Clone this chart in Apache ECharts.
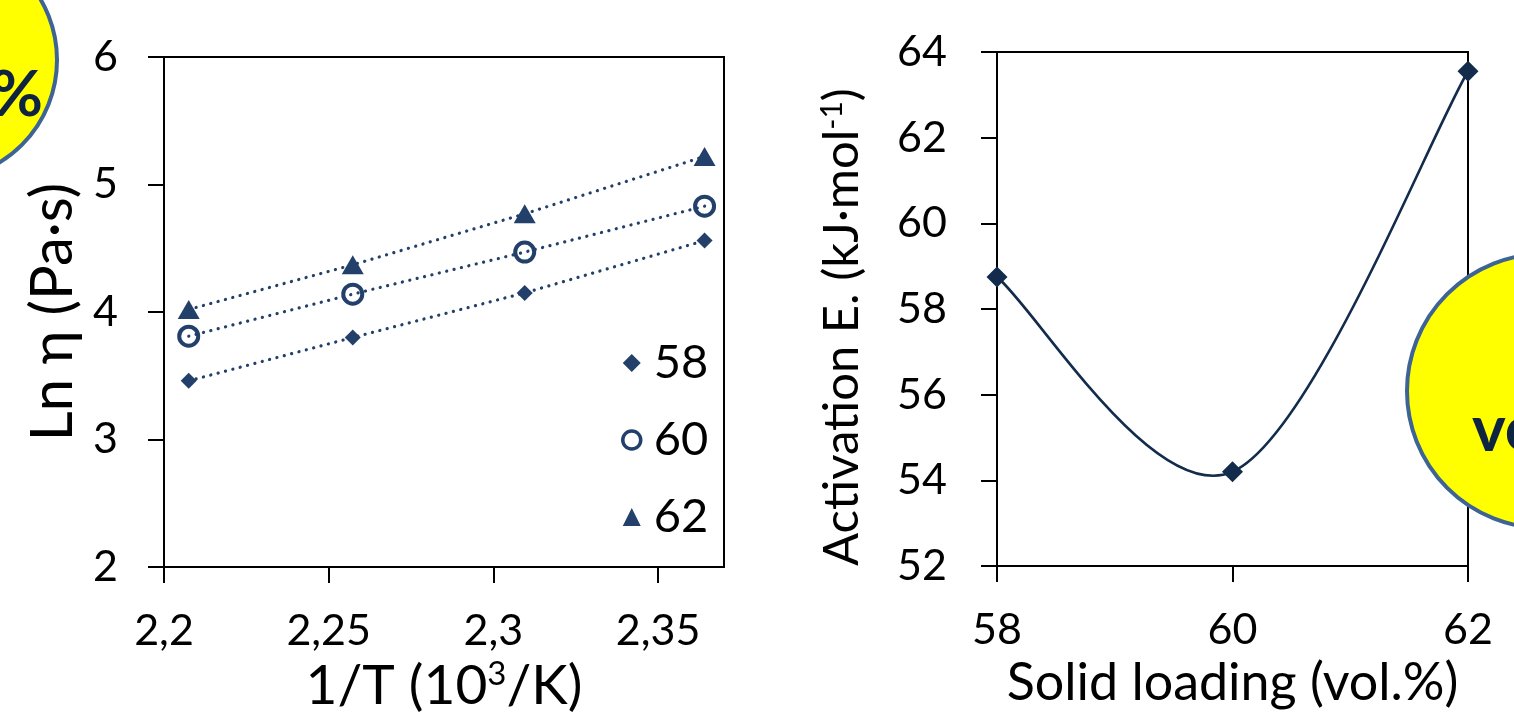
<!DOCTYPE html>
<html>
<head>
<meta charset="utf-8">
<script src="https://cdn.jsdelivr.net/npm/echarts@6/dist/echarts.min.js"></script>
<style>
html,body{margin:0;padding:0;background:#fff;}
#c{width:1514px;height:723px;}
</style>
</head>
<body>
<div id="c"></div>
<script>
// ---- Data (left panel: Arrhenius plot) ----
const invT = [2.2075, 2.2573, 2.3095, 2.3641];
const ln58 = [3.46, 3.80, 4.15, 4.56];
const ln60 = [3.81, 4.14, 4.47, 4.83];
const ln62 = [4.02, 4.37, 4.77, 5.22];
const seriesNames = ['58', '60', '62'];
const xTicksLeft = [2.2, 2.25, 2.3, 2.35];

// ---- Data (right panel: activation energy) ----
const solidLoading = [58, 60, 62];
const activationE = [58.75, 54.2, 63.55];

const FONT = 'Lato';
const C_LEFT = '#22406a';
const C_RIGHT = '#132c4c';

function pairs(xs, ys) { return xs.map((x, i) => [x, ys[i]]); }
const fmtComma = v => String(+Number(v).toFixed(3)).replace('.', ',');

const chart = echarts.init(document.getElementById('c'), null, {renderer: 'canvas'});

const axisLine = {show: true, lineStyle: {color: '#000', width: 2}};
const tickOut = {show: true, inside: false, length: 16, lineStyle: {color: '#000', width: 2}};

// Smoothed curve (spreadsheet-style Bezier smoothing) drawn through the axis scales
function renderSmooth(params, api) {
  const i = params.dataIndex;
  const n = solidLoading.length;
  if (i >= n - 1) return null;
  const P = k => {
    const j = Math.max(0, Math.min(n - 1, k));
    return api.coord([solidLoading[j], activationE[j]]);
  };
  const p0 = P(i - 1), p1 = P(i), p2 = P(i + 1), p3 = P(i + 2);
  return {
    type: 'bezierCurve',
    shape: {
      x1: p1[0], y1: p1[1], x2: p2[0], y2: p2[1],
      cpx1: p1[0] + (p2[0] - p0[0]) / 6, cpy1: p1[1] + (p2[1] - p0[1]) / 6,
      cpx2: p2[0] - (p3[0] - p1[0]) / 6, cpy2: p2[1] - (p3[1] - p1[1]) / 6
    },
    style: {stroke: C_RIGHT, lineWidth: 2.6, fill: null}
  };
}

const option = {
  backgroundColor: '#fff',
  animation: false,
  textStyle: {fontFamily: FONT},
  grid: [
    {left: 164, top: 57, width: 560, height: 510, show: true, borderColor: '#000', borderWidth: 2, backgroundColor: 'transparent'},
    {left: 997, top: 52, width: 471, height: 514, show: true, borderColor: '#000', borderWidth: 2, backgroundColor: 'transparent'}
  ],
  xAxis: [
    {
      gridIndex: 0, type: 'value', min: 2.2, max: 2.37, interval: 0.05,
      axisLine, axisTick: Object.assign({}, tickOut, {customValues: xTicksLeft}),
      splitLine: {show: false},
      axisLabel: {customValues: xTicksLeft, formatter: fmtComma, fontSize: 43, fontFamily: FONT, color: '#000', margin: 43},
      name: '1/T (10{sup|3}/K)', nameLocation: 'middle', nameGap: 88,
      nameTextStyle: {fontSize: 55, fontFamily: FONT, color: '#000',
        rich: {sup: {fontSize: 33, fontFamily: FONT, color: '#000', verticalAlign: 'top', padding: [0, 0, 24, 0]}}}
    },
    {
      gridIndex: 1, type: 'value', min: 58, max: 62, interval: 2,
      axisLine, axisTick: tickOut, splitLine: {show: false},
      axisLabel: {fontSize: 43, fontFamily: FONT, color: '#000', margin: 43},
      name: 'Solid loading (vol.%)', nameLocation: 'middle', nameGap: 88,
      nameTextStyle: {fontSize: 52, fontFamily: FONT, color: '#000'}
    }
  ],
  yAxis: [
    {
      gridIndex: 0, type: 'value', min: 2, max: 6, interval: 1,
      axisLine, axisTick: tickOut, splitLine: {show: false},
      axisLabel: {fontSize: 43, fontFamily: FONT, color: '#000', margin: 46},
      name: 'Ln η (Pa·s)', nameLocation: 'middle', nameRotate: 90, nameGap: 82,
      nameTextStyle: {fontSize: 58, fontFamily: FONT, color: '#000'}
    },
    {
      gridIndex: 1, type: 'value', min: 52, max: 64, interval: 2,
      axisLine, axisTick: tickOut, splitLine: {show: false},
      axisLabel: {fontSize: 43, fontFamily: FONT, color: '#000', margin: 50},
      name: 'Activation E. (kJ·mol{sup|-1})', nameLocation: 'middle', nameRotate: 90, nameGap: 130,
      nameTextStyle: {fontSize: 49, fontFamily: FONT, color: '#000', padding: [0, 36, 0, 0],
        rich: {sup: {fontSize: 30, fontFamily: FONT, color: '#000', verticalAlign: 'top', padding: [0, 0, 20, 0]}}}
    }
  ],
  legend: {
    orient: 'vertical', left: 616, top: 330, itemGap: 21,
    itemWidth: 18, itemHeight: 18,
    data: [
      {name: seriesNames[0]},
      {name: seriesNames[1], itemStyle: {color: 'rgba(255,255,255,0)', borderColor: C_LEFT, borderWidth: 3.5}},
      {name: seriesNames[2]}
    ],
    textStyle: {fontSize: 47, fontFamily: FONT, color: '#000', lineHeight: 56, padding: [0, 0, 0, 8]}
  },
  series: [
    // dotted trend lines
    {type: 'line', xAxisIndex: 0, yAxisIndex: 0, data: pairs(invT, ln58), showSymbol: false, silent: true, z: 1,
     lineStyle: {color: C_LEFT, width: 3.2, type: [0.1, 7.5], cap: 'round'}},
    {type: 'line', xAxisIndex: 0, yAxisIndex: 0, data: pairs(invT, ln60), showSymbol: false, silent: true, z: 1,
     lineStyle: {color: C_LEFT, width: 3.2, type: [0.1, 7.5], cap: 'round'}},
    {type: 'line', xAxisIndex: 0, yAxisIndex: 0, data: pairs(invT, ln62), showSymbol: false, silent: true, z: 1,
     lineStyle: {color: C_LEFT, width: 3.2, type: [0.1, 7.5], cap: 'round'}},
    // markers
    {name: seriesNames[0], type: 'scatter', xAxisIndex: 0, yAxisIndex: 0, data: pairs(invT, ln58), z: 3,
     symbol: 'diamond', symbolSize: 16, itemStyle: {color: C_LEFT, opacity: 1}},
    {name: seriesNames[1], type: 'scatter', xAxisIndex: 0, yAxisIndex: 0, data: pairs(invT, ln60), z: 3,
     symbol: 'circle', symbolSize: 19, itemStyle: {color: 'rgba(255,255,255,0)', borderColor: C_LEFT, borderWidth: 4, opacity: 1}},
    {name: seriesNames[2], type: 'scatter', xAxisIndex: 0, yAxisIndex: 0, data: pairs(invT, ln62), z: 3,
     symbol: 'triangle', symbolSize: [22, 19], itemStyle: {color: C_LEFT, opacity: 1}},
    // right panel: smoothed curve + markers
    {type: 'custom', coordinateSystem: 'cartesian2d', xAxisIndex: 1, yAxisIndex: 1, silent: true, z: 2,
     data: pairs(solidLoading, activationE), renderItem: renderSmooth, clip: false},
    {type: 'scatter', xAxisIndex: 1, yAxisIndex: 1, data: pairs(solidLoading, activationE), z: 3,
     symbol: 'diamond', symbolSize: 21, itemStyle: {color: C_RIGHT, opacity: 1}}
  ],
  graphic: [
    {type: 'circle', shape: {cx: -63, cy: 60, r: 120}, style: {fill: '#ffff00', stroke: '#3d6494', lineWidth: 4}, z: 10},
    {type: 'text', x: 43, y: 127, style: {text: 'vol.%', fill: '#0f2440', font: 'bold 64px Lato', textAlign: 'right', textVerticalAlign: 'bottom'}, z: 11},
    {type: 'circle', shape: {cx: 1544, cy: 391, r: 137}, style: {fill: '#ffff00', stroke: '#3d6494', lineWidth: 4}, z: 10},
    {type: 'text', x: 1472, y: 462, style: {text: 'vol.%', fill: '#0f2440', font: 'bold 64px Lato', textAlign: 'left', textVerticalAlign: 'bottom'}, z: 11}
  ]
};
chart.setOption(option);
</script>
</body>
</html>
